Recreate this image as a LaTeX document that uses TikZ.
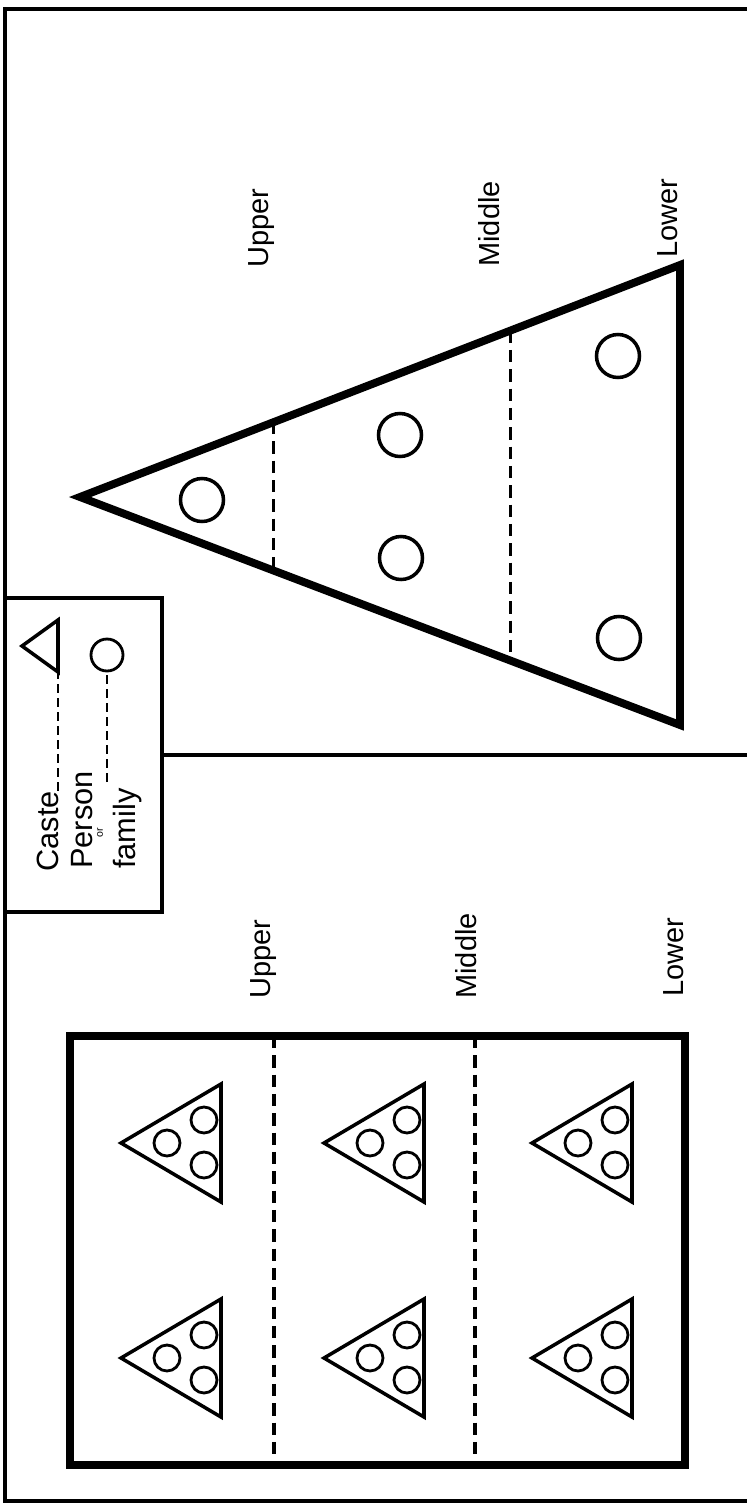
\documentclass[tikz,border=0pt]{standalone}
\usepackage{fontspec}
\setsansfont{Liberation Sans}
\usetikzlibrary{calc}

\begin{document}
\begin{tikzpicture}[
    x=0.02cm, y=-0.02cm,
    frameline/.style={line width=2.8pt},
    panel/.style={line width=2.3pt},
    heavy/.style={line width=4.5pt},
    thin/.style={line width=2pt},
    member/.style={line width=1.6pt},
    divider/.style={line width=1.8pt, dash pattern=on 7pt off 4pt},
    legdash/.style={line width=1.6pt, dash pattern=on 5pt off 3pt},
    lbl/.style={rotate=90, anchor=west, inner sep=0pt, font=\sffamily\fontsize{16.5}{16.5}\selectfont},
    legtext/.style={rotate=90, anchor=base west, inner sep=0pt, font=\sffamily\fontsize{17.5}{17.5}\selectfont}
]
    \useasboundingbox (0,0) rectangle (747,1505);

    % Frame and panels
    \draw[frameline] (760,9) -- (5,9) -- (5,1501) -- (760,1501);
    \draw[panel] (5,598) -- (162,598) -- (162,912) -- (5,912);
    \draw[panel] (162,755) -- (760,755);

    % Legend
    \node[legtext] (caste) at (58,872) {Caste};
    \node[legtext] (person) at (92,869) {Person};
    \node[rotate=90, inner sep=0pt, font=\sffamily\fontsize{6}{6}\selectfont] (or) at (100,833) {or};
    \node[legtext] (family) at (135,869) {family};
    \coordinate (castesym) at (58,672);
    \draw[thin] (castesym) -- (22,646) -- (58,620) -- cycle;
    \node[circle, draw, member, inner sep=0pt, minimum size=0.64cm] (famsym) at (107,655) {};
    \coordinate (persontail) at (107,782);
    \draw[legdash] (caste.base east) -- (castesym);
    \draw[legdash] (persontail) -- (famsym.south);

    % One caste: a single triangle
    \coordinate (apex) at (80,497);
    \coordinate (tr) at (680,265);
    \coordinate (br) at (680,725);
    \draw[heavy] (apex) -- (tr) -- (br) -- cycle;
    \draw[divider] ($(apex)!0.323!(tr)$) -- ($(apex)!0.323!(br)$);
    \draw[divider] ($(apex)!0.717!(tr)$) -- ($(apex)!0.717!(br)$);
    \foreach \cx/\cy in {202/500, 400/435, 401/558, 618/356, 619/638}
        \draw[thin] (\cx,\cy) circle[radius=21.5];

    \node[lbl] (upA) at (262,268) {Upper};
    \node[lbl] (midA) at (489,267) {Middle};
    \node[lbl] (lowA) at (668,258) {Lower};

    % Many castes in a box
    \draw[heavy] (70,1036) rectangle (685,1465);
    \draw[divider] (274,1036) -- (274,1465);
    \draw[divider] (475,1036) -- (475,1465);
    \foreach \ax in {121,324,532}
        \foreach \ay in {1143,1358} {
            \draw[thin] (\ax,\ay) -- ++(100,-59) -- ++(0,118) -- cycle;
            \draw[member] (\ax+46,\ay) circle[radius=13]
                (\ax+83,\ay-23) circle[radius=13]
                (\ax+83,\ay+22) circle[radius=13];
        }

    \node[lbl] (upB) at (264,999) {Upper};
    \node[lbl] (midB) at (466,999) {Middle};
    \node[lbl] (lowB) at (674,997) {Lower};

\end{tikzpicture}
\end{document}
